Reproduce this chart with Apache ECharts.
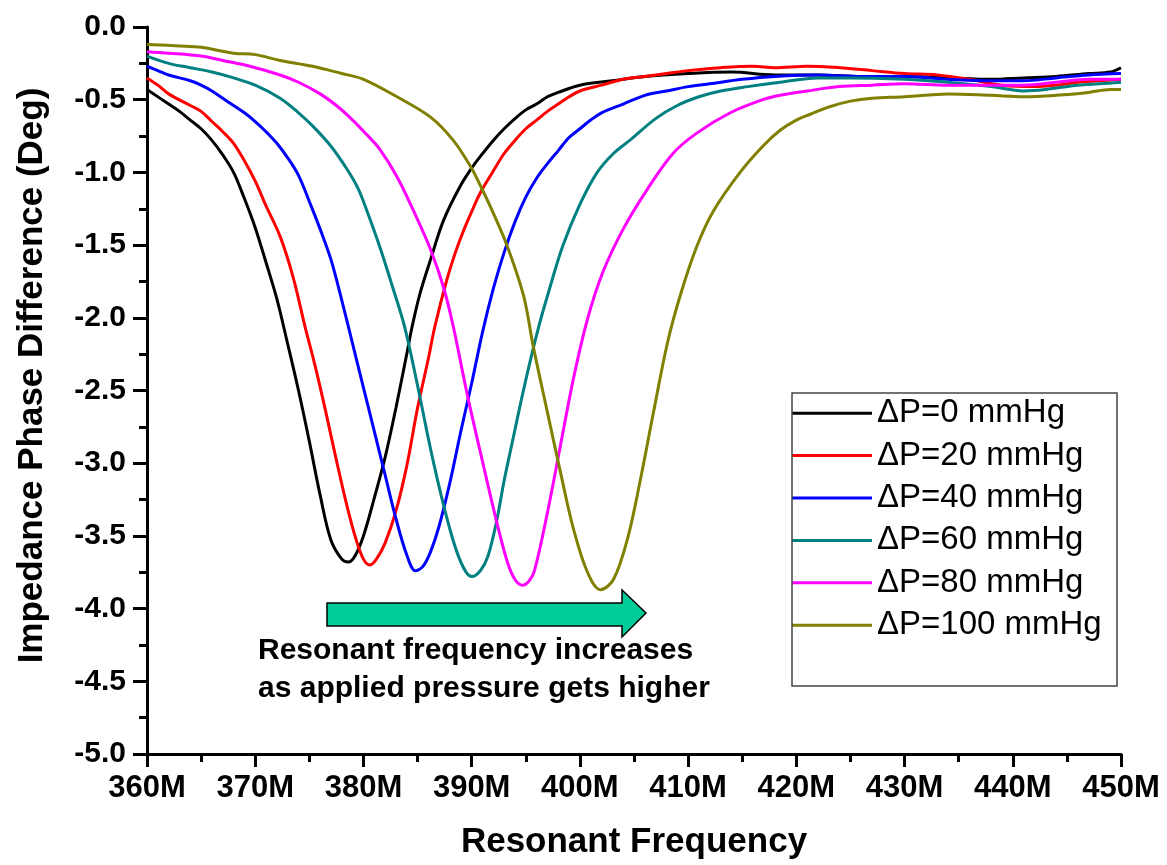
<!DOCTYPE html>
<html>
<head>
<meta charset="utf-8">
<title>Impedance Phase Difference</title>
<script src="https://cdn.jsdelivr.net/npm/echarts@6/dist/echarts.min.js"></script>
<style>
	html, body {
		margin: 0;
		padding: 0;
		background: #fff;
	}

	#chart {
		width: 1167px;
		height: 865px;
	}
</style>
</head>
<body>
<div id="chart"></div>
<script>
	// [frequency (MHz), phase difference (deg)]
	const dp0 = [
		[360, -0.43], [362, -0.53], [363, -0.58], [364, -0.64], [365, -0.70], [366, -0.78],
		[367, -0.88], [368, -1.00], [369, -1.18], [370, -1.38], [371, -1.62], [372, -1.87],
		[373, -2.18], [374, -2.50], [375, -2.85], [376, -3.22], [377, -3.53], [378, -3.66],
		[378.6, -3.68], [379.2, -3.64], [380, -3.50], [381, -3.24], [382, -2.96], [383, -2.62],
		[384, -2.25], [384.5, -2.06], [385.2, -1.84], [386.2, -1.60], [387.4, -1.33], [388.9, -1.10],
		[390, -0.97], [390.8, -0.89], [392, -0.78], [393, -0.70], [394, -0.63], [395, -0.57],
		[396, -0.53], [397, -0.48], [398, -0.45], [400, -0.40], [403, -0.37], [406, -0.34],
		[410, -0.32], [414, -0.31], [418, -0.33], [422, -0.33], [426, -0.34], [430, -0.34],
		[434, -0.35], [438, -0.36], [441, -0.35], [444, -0.34], [447, -0.32], [449, -0.31],
		[450, -0.28]
	]
	const dp20 = [
		[360, -0.35], [361, -0.40], [362, -0.46], [364, -0.54], [365, -0.58], [366, -0.65],
		[367, -0.72], [368, -0.80], [369, -0.92], [370, -1.06], [371, -1.23], [372.3, -1.44],
		[373.5, -1.72], [374.6, -2.06], [375.5, -2.32], [376.5, -2.64], [377.5, -2.98], [378.5, -3.30],
		[379.3, -3.52], [380, -3.66], [380.6, -3.70], [381.2, -3.66], [382, -3.55], [383, -3.33],
		[384, -3.02], [385, -2.62], [386, -2.28], [386.6, -2.06], [387.7, -1.74], [388.5, -1.55],
		[389.2, -1.41], [390, -1.27], [390.8, -1.14], [392, -0.99], [393, -0.87], [394, -0.78],
		[395, -0.70], [396, -0.64], [397, -0.58], [398, -0.53], [399, -0.48], [400, -0.44],
		[402, -0.40], [404, -0.36], [406, -0.34], [408, -0.32], [410, -0.30], [413, -0.28],
		[416, -0.27], [418, -0.28], [421, -0.27], [424, -0.28], [427, -0.30], [430, -0.32],
		[433, -0.33], [436, -0.36], [439, -0.40], [442, -0.41], [444, -0.40], [446, -0.38],
		[448, -0.37], [450, -0.36]
	]
	const dp40 = [
		[360, -0.27], [361, -0.30], [362, -0.33], [364, -0.37], [365, -0.40], [366, -0.44],
		[367, -0.49], [368, -0.54], [369, -0.59], [370, -0.65], [371, -0.72], [372, -0.80],
		[373, -0.90], [374, -1.02], [375, -1.20], [376, -1.39], [377, -1.60], [378, -1.88],
		[379, -2.18], [380, -2.48], [381, -2.78], [382, -3.08], [383, -3.38], [384, -3.63],
		[384.8, -3.74], [385.5, -3.71], [386.2, -3.61], [387, -3.43], [388, -3.13], [389, -2.78],
		[390, -2.45], [391, -2.10], [392, -1.80], [393, -1.55], [394, -1.34], [395, -1.17],
		[396, -1.04], [397, -0.94], [398, -0.85], [399, -0.76], [400, -0.70], [401, -0.64],
		[402, -0.59], [404, -0.53], [406, -0.47], [408, -0.44], [410, -0.41], [412, -0.39],
		[415, -0.36], [418, -0.34], [422, -0.33], [426, -0.34], [430, -0.34], [434, -0.36],
		[438, -0.37], [441, -0.37], [444, -0.35], [447, -0.33], [450, -0.32]
	]
	const dp60 = [
		[360, -0.20], [362, -0.25], [364, -0.28], [366, -0.31], [368, -0.35], [370, -0.40],
		[372.3, -0.49], [374, -0.59], [375.3, -0.68], [377, -0.82], [378.5, -0.98], [379.5, -1.11],
		[380.3, -1.26], [381.5, -1.51], [382.7, -1.79], [383.8, -2.06], [384.9, -2.43], [386.4, -2.97],
		[387.9, -3.43], [389, -3.68], [390, -3.78], [390.8, -3.74], [391.5, -3.64], [392.3, -3.40],
		[393, -3.12], [393.8, -2.84], [394.6, -2.56], [395.4, -2.30], [396.2, -2.06], [397, -1.85],
		[398.4, -1.51], [400, -1.22], [401.6, -1.00], [403.1, -0.87], [404.6, -0.78], [407, -0.63],
		[409, -0.54], [411, -0.48], [413, -0.44], [415.5, -0.41], [418.5, -0.38], [422, -0.35],
		[425, -0.35], [430, -0.36], [434, -0.38], [438, -0.41], [441, -0.44], [443, -0.43],
		[446, -0.40], [448, -0.39], [450, -0.38]
	]
	const dp80 = [
		[360, -0.17], [362, -0.18], [365, -0.20], [367, -0.23], [369.5, -0.27], [372.3, -0.33],
		[374, -0.38], [376, -0.46], [377.5, -0.54], [379, -0.64], [380.3, -0.74], [381.5, -0.84],
		[383.1, -1.03], [384.6, -1.26], [386.2, -1.53], [387.4, -1.79], [388.3, -2.06], [389.6, -2.53],
		[391.1, -3.02], [392.3, -3.40], [393.3, -3.68], [394, -3.80], [394.7, -3.84], [395.3, -3.81],
		[395.8, -3.74], [397, -3.34], [398.2, -2.88], [399.4, -2.42], [400.7, -2.01], [402.1, -1.69],
		[404, -1.39], [406.2, -1.12], [408.6, -0.87], [410.8, -0.73], [413.9, -0.59], [416.9, -0.50],
		[418.5, -0.47], [421, -0.44], [424, -0.41], [427, -0.40], [430, -0.39], [434, -0.40],
		[438, -0.40], [441, -0.40], [444, -0.38], [447, -0.36], [450, -0.36]
	]
	const dp100 = [
		[360, -0.12], [363, -0.13], [365, -0.14], [368, -0.18], [370, -0.19], [372.3, -0.23],
		[375.3, -0.27], [378, -0.32], [380, -0.36], [383.1, -0.48], [386.2, -0.62], [388.3, -0.78],
		[389.9, -0.96], [390.8, -1.09], [392, -1.28], [393.3, -1.51], [394.8, -1.85], [395.7, -2.20],
		[397, -2.65], [398.2, -3.06], [399.4, -3.45], [400.7, -3.75], [401.9, -3.87], [403.1, -3.80],
		[404.4, -3.52], [405.6, -3.11], [406.8, -2.65], [408.1, -2.17], [409.3, -1.84], [410.8, -1.51],
		[412.3, -1.27], [414.8, -1.00], [416.9, -0.82], [418.5, -0.71], [420, -0.64], [421.3, -0.60],
		[423, -0.55], [425, -0.51], [427, -0.49], [430, -0.48], [434, -0.46], [438, -0.47],
		[441, -0.48], [444, -0.47], [447, -0.45], [449, -0.43], [450, -0.43]
	]

	const seriesNames = ['ΔP=0 mmHg', 'ΔP=20 mmHg', 'ΔP=40 mmHg', 'ΔP=60 mmHg', 'ΔP=80 mmHg', 'ΔP=100 mmHg']
	const seriesData = [dp0, dp20, dp40, dp60, dp80, dp100]
	const colors = ['#000000', '#ff0000', '#0000ff', '#008080', '#ff00ff', '#808000']
	const noteLines = ['Resonant frequency increases', 'as applied pressure gets higher']

	const font = 'Arial, "Liberation Sans", sans-serif'

	let series = seriesData.map((data, i) => {
		return {
			name: seriesNames[i],
			type: 'line',
			data: data,
			smooth: 0.35,
			symbol: 'none',
			lineStyle: {
				width: 3,
				color: colors[i]
			},
			itemStyle: {
				color: colors[i]
			}
		}
	})

	let option = {
		backgroundColor: '#fff',
		animation: false,
		grid: {
			left: 147,
			top: 27,
			right: 46,
			bottom: 108
		},
		xAxis: {
			type: 'value',
			min: 360,
			max: 450,
			interval: 10,
			name: 'Resonant Frequency',
			nameLocation: 'middle',
			nameGap: 71,
			nameTextStyle: {
				fontFamily: font,
				fontWeight: 'bold',
				fontSize: 35,
				color: '#000'
			},
			axisLine: {
				onZero: false,
				lineStyle: {
					color: '#000',
					width: 3
				}
			},
			axisTick: {
				length: 13,
				lineStyle: {
					color: '#000',
					width: 3
				}
			},
			minorTick: {
				show: true,
				splitNumber: 2,
				length: 8,
				lineStyle: {
					color: '#000',
					width: 3
				}
			},
			splitLine: {
				show: false
			},
			axisLabel: {
				margin: 19,
				fontFamily: font,
				fontWeight: 'bold',
				fontSize: 31,
				color: '#000',
				formatter: (value) => {
					return value + 'M'
				}
			}
		},
		yAxis: {
			type: 'value',
			min: -5,
			max: 0,
			interval: 0.5,
			name: 'Impedance Phase Difference (Deg)',
			nameLocation: 'middle',
			nameGap: 97,
			nameTextStyle: {
				fontFamily: font,
				fontWeight: 'bold',
				fontSize: 35,
				color: '#000',
				padding: [0, 0, 0, 30]
			},
			axisLine: {
				show: true,
				lineStyle: {
					color: '#000',
					width: 3
				}
			},
			axisTick: {
				show: true,
				length: 14,
				lineStyle: {
					color: '#000',
					width: 3
				}
			},
			minorTick: {
				show: true,
				splitNumber: 2,
				length: 8,
				lineStyle: {
					color: '#000',
					width: 3
				}
			},
			splitLine: {
				show: false
			},
			axisLabel: {
				margin: 21,
				fontFamily: font,
				fontWeight: 'bold',
				fontSize: 30,
				color: '#000',
				formatter: (value) => {
					return value.toFixed(1)
				}
			}
		},
		legend: {
			orient: 'vertical',
			left: 792,
			top: 392,
			padding: 0,
			itemGap: 0,
			itemWidth: 80,
			itemHeight: 3,
			icon: 'rect',
			textStyle: {
				fontFamily: font,
				fontSize: 33,
				lineHeight: 42.4,
				color: '#000'
			},
			data: seriesNames
		},
		graphic: [{
			type: 'rect',
			shape: {
				x: 792,
				y: 393,
				width: 325,
				height: 293
			},
			style: {
				fill: 'none',
				stroke: '#444',
				lineWidth: 1.5
			},
			z: 10
		}, {
			type: 'polygon',
			shape: {
				points: [[327, 603], [622, 603], [622, 590], [646, 613], [622, 637], [622, 626], [327, 626]]
			},
			style: {
				fill: '#00cc99',
				stroke: '#000',
				lineWidth: 1.5
			},
			z: 10
		}, {
			type: 'text',
			left: 258,
			top: 632,
			style: {
				text: noteLines.join('\n'),
				font: 'bold 30px ' + font,
				lineHeight: 38,
				fill: '#000'
			},
			z: 10
		}],
		series: series
	}

	let dom = echarts.init(document.getElementById('chart'))
	dom.setOption(option, true)
</script>
</body>
</html>
